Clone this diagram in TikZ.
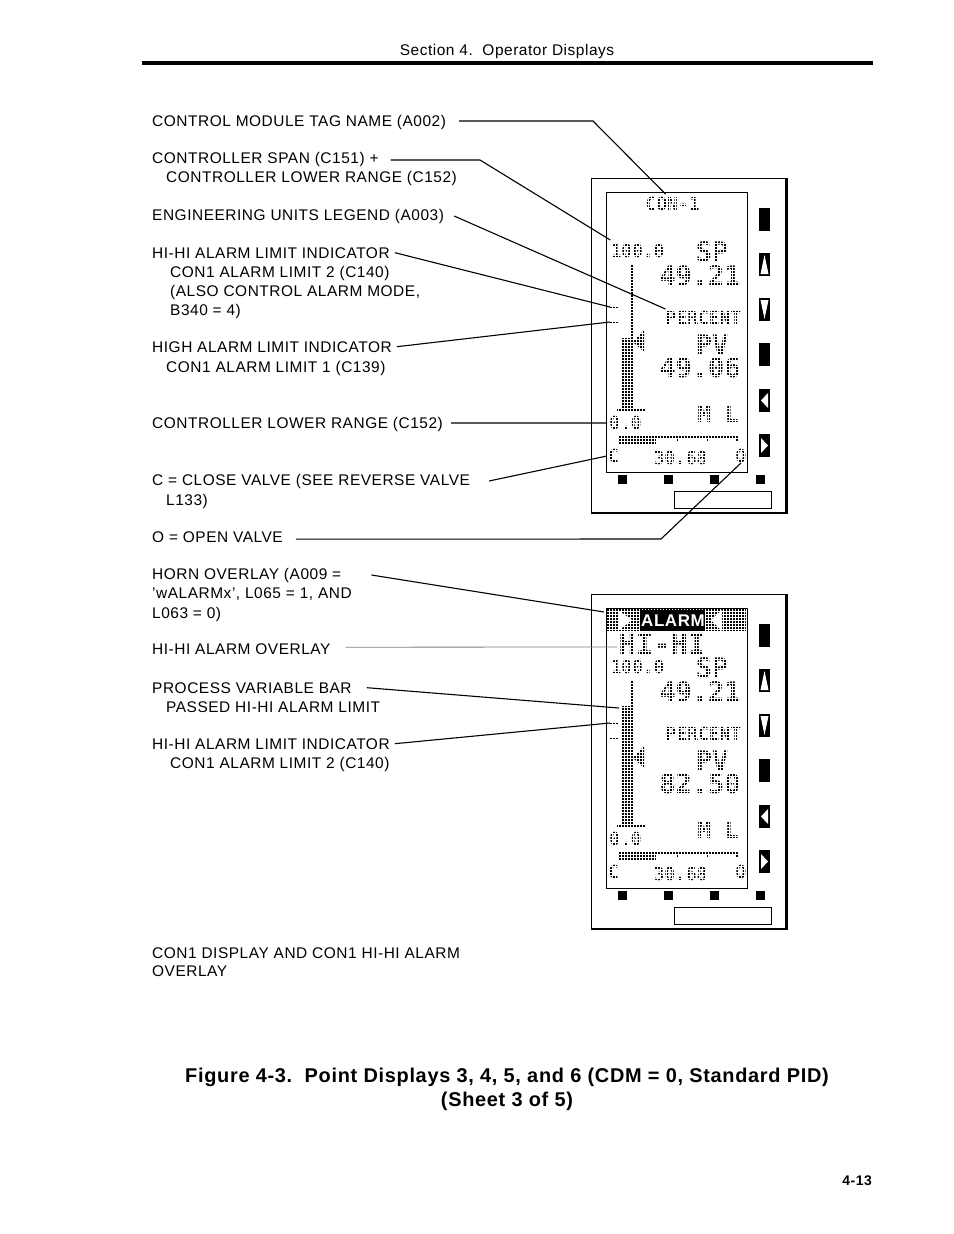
\documentclass[tikz,border=0pt]{standalone}
\usepackage{fontspec}
\setmainfont{Liberation Sans}[LetterSpace=3.5]
\newfontfamily\lcdfont{DejaVu Sans Mono}
\tikzset{
  x=1bp,y=-1bp,
  lbl/.style={anchor=base west,inner sep=0pt,font=\fontsize{15.5}{17}\selectfont},
  leader/.style={line width=1.1bp},
  lcdbig/.style={inner sep=0pt,font=\lcdfont\bfseries\fontsize{27}{27}\selectfont},
  lcdmid/.style={inner sep=0pt,font=\lcdfont\bfseries\fontsize{23}{23}\selectfont},
  lcdsmall/.style={inner sep=0pt,font=\lcdfont\bfseries\fontsize{18}{18}\selectfont},
  lcdgrid/.style={white,line width=1bp,step=3bp},
  finegrid/.style={white,line width=0.5bp,step=3bp}
}
\newcommand{\lcdpanel}[4]{%
  \begin{scope}[shift={(0,#1)},name prefix=#2]
    \draw [line width=1.2bp] (591.5,178.5) rectangle (786,513);
    \fill (785,178) rectangle (788,514);
    \draw [line width=0.9bp] (606,192) rectangle (747,472);
    \node [lcdsmall] (span) at (637.5,251) {100.0};
    \node [lcdbig] (sp) at (712,252) {SP};
    \node [lcdbig] (spval) at (700,276) {49.21};
    \node [lcdsmall] (unit) at (703.5,318) {PERCENT};
    \node [lcdbig] (pv) at (712,345) {PV};
    \node [lcdbig] (pvval) at (700,368) {#3};
    \node [lcdmid] (mode) at (718,414) {M L};
    \node [lcdsmall] (low) at (625.5,423) {0.0};
    \node [lcdsmall] (close) at (613.5,456) {C};
    \node [lcdsmall] (out) at (680.5,458) {30.68};
    \node [lcdsmall] (open) at (741,456) {O};
    \fill (631,264) rectangle (633,411);
    \fill (617,408.5) rectangle (645,411);
    \fill (610,306) rectangle (619,308);
    \fill (610,321) rectangle (619,323);
    \coordinate (hidash) at (610,307);
    \coordinate (highdash) at (610,322);
    \fill (633,342) -- (644,330) -- (644,352) -- cycle;
    \fill (619,435.5) rectangle (736,437.5);
    \fill (619,439) rectangle (656,444);
    \foreach \tickx in {619,677,707,736} {
      \fill (\tickx,436) rectangle ++(2,5);
    }
    #4
    \draw [lcdgrid] (607,193) grid (746,471);
    \foreach \keytop in {208,343} {
      \fill (759,\keytop) rectangle ++(11,23);
    }
    \fill (759,253) rectangle (770,276);
    \fill [white] (764.5,255) -- (768.5,274) -- (760.5,274) -- cycle;
    \fill (759,298) rectangle (770,321);
    \fill [white] (760.5,300) -- (768.5,300) -- (764.5,319) -- cycle;
    \fill (759,389) rectangle (770,412);
    \fill [white] (761,400.5) -- (768,393) -- (768,408) -- cycle;
    \fill (759,434) rectangle (770,457);
    \fill [white] (761,438) -- (768,445.5) -- (761,453) -- cycle;
    \foreach \keyx in {618,664,710,756} {
      \fill (\keyx,475) rectangle ++(9,9);
    }
    \draw [line width=0.8bp] (674.5,491.5) rectangle (771,508);
  \end{scope}}
\begin{document}
\begin{tikzpicture}
  \useasboundingbox [fill=white] (0,0) rectangle (954,1234);
  % header
  \node [inner sep=0pt,font=\fontsize{15.5}{17}\selectfont] (header) at (507,51.5) {Section 4.\ \ Operator Displays};
  \fill (142,61) rectangle (873,65);
  % displays
  \lcdpanel{0}{a}{49.06}{%
    \node [lcdsmall] (tag) at (672.5,204) {CON-1};
    \fill (622,338) rectangle (630,411);
  }
  \lcdpanel{416}{b}{82.50}{%
    \fill (607,193) rectangle (746,215);
    \fill (622,290) rectangle (630,411);
  }
  % overlays on the second display
  \fill [white] (618,610) -- (632,620) -- (618,631) -- cycle;
  \fill [white] (722,610) -- (711,620) -- (722,631) -- cycle;
  \fill (640,610) rectangle (705,631);
  \node [inner sep=0pt,white,font=\bfseries\fontsize{17}{17}\selectfont] (alarm) at (673,621) {ALARM};
  \node [inner sep=0pt,font=\lcdfont\bfseries\fontsize{29}{29}\selectfont] (hihi) at (662,644) {HI-HI};
  \draw [finegrid] (618,633) grid (707,656);
  % labels
  \node [lbl] (tagname) at (152,126) {CONTROL MODULE TAG NAME (A002)};
  \node [lbl] (spanname) at (152,163) {CONTROLLER SPAN (C151) +};
  \node [lbl] (spanb) at (166,182) {CONTROLLER LOWER RANGE (C152)};
  \node [lbl] (units) at (152,220) {ENGINEERING UNITS LEGEND (A003)};
  \node [lbl] (hihia) at (152,258) {HI-HI ALARM LIMIT INDICATOR};
  \node [lbl] (hihib) at (170,277) {CON1 ALARM LIMIT 2 (C140)};
  \node [lbl] (hihic) at (170,296) {(ALSO CONTROL ALARM MODE,};
  \node [lbl] (hihid) at (170,315) {B340 = 4)};
  \node [lbl] (higha) at (152,352) {HIGH ALARM LIMIT INDICATOR};
  \node [lbl] (highb) at (166,372) {CON1 ALARM LIMIT 1 (C139)};
  \node [lbl] (lower) at (152,428) {CONTROLLER LOWER RANGE (C152)};
  \node [lbl] (closea) at (152,485) {C = CLOSE VALVE (SEE REVERSE VALVE};
  \node [lbl] (closeb) at (166,505) {L133)};
  \node [lbl] (opena) at (152,542) {O = OPEN VALVE};
  \node [lbl] (horna) at (152,579) {HORN OVERLAY (A009 =};
  \node [lbl] (hornb) at (152,598) {'wALARMx', L065 = 1, AND};
  \node [lbl] (hornc) at (152,618) {L063 = 0)};
  \node [lbl] (overlay) at (152,654) {HI-HI ALARM OVERLAY};
  \node [lbl] (pvbara) at (152,693) {PROCESS VARIABLE BAR};
  \node [lbl] (pvbarb) at (166,712) {PASSED HI-HI ALARM LIMIT};
  \node [lbl] (limita) at (152,749) {HI-HI ALARM LIMIT INDICATOR};
  \node [lbl] (limitb) at (170,768) {CON1 ALARM LIMIT 2 (C140)};
  \node [lbl] (capa) at (152,958) {CON1 DISPLAY AND CON1 HI-HI ALARM};
  \node [lbl] (capb) at (152,976) {OVERLAY};
  % connectors
  \coordinate (tagbend) at (593,121);
  \coordinate (spanbend) at (480,160);
  \coordinate (openbend) at (661,539);
  \coordinate (bandleft) at (604,612);
  \coordinate (pvbartop) at (619,708);
  \draw [leader] ([xshift=13bp,yshift=1bp]tagname.east) -- (tagbend) -- ([xshift=-7bp,yshift=3bp]atag.north);
  \draw [leader] ([xshift=12bp,yshift=-1bp]spanname.east) -- (spanbend) -- ([yshift=4bp]aspan.north west);
  \draw [leader] ([xshift=10bp]units.east) -- ([yshift=2bp]aunit.north west);
  \draw [leader] ([xshift=5bp]hihia.east) -- (ahidash);
  \draw [leader] ([xshift=5bp]higha.east) -- (ahighdash);
  \draw [leader] ([xshift=8bp,yshift=1bp]lower.east) -- ([xshift=-2bp]alow.west);
  \draw [leader] ([xshift=19bp]closea.east) -- ([xshift=-1bp]aclose.west);
  \draw [leader] ([xshift=13bp,yshift=-2.5bp]opena.east) -- (openbend) -- ([yshift=-7bp]aopen.center);
  \draw [leader] ([xshift=30bp]horna.east) -- (bandleft);
  \draw [gray,line width=0.8bp] ([xshift=15bp,yshift=1.5bp]overlay.east) -- ([xshift=-1bp,yshift=-3bp]hihi.west);
  \draw [leader] ([xshift=15bp]pvbara.east) -- (pvbartop);
  \draw [leader] ([xshift=5bp]limita.east) -- (bhidash);
  % caption
  \node [inner sep=0pt,font=\bfseries\fontsize{20}{24}\selectfont] (figa) at (507,1077) {Figure 4-3.\ \ Point Displays 3, 4, 5, and 6 (CDM = 0, Standard PID)};
  \node [inner sep=0pt,font=\bfseries\fontsize{20}{24}\selectfont] (figb) at (507,1101) {(Sheet 3 of 5)};
  \node [anchor=base east,inner sep=0pt,font=\bfseries\fontsize{14}{16}\selectfont] (folio) at (872,1185) {4-13};
\end{tikzpicture}
\end{document}
